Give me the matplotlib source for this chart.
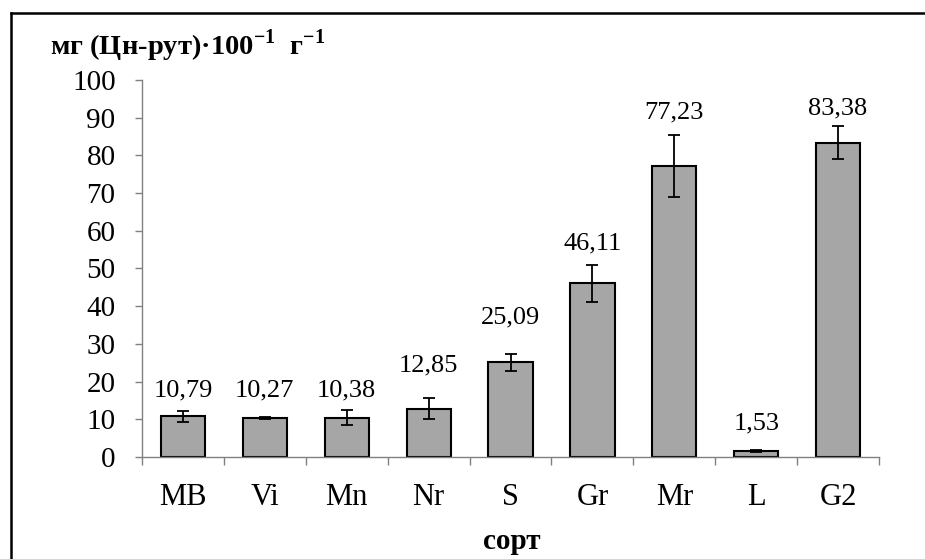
import matplotlib
matplotlib.use("Agg")
import matplotlib.pyplot as plt
from matplotlib.lines import Line2D

# =====================================================
# DATA
# =====================================================

varieties = ["MB", "Vi", "Mn", "Nr", "S", "Gr", "Mr", "L", "G2"]
values = [10.79, 10.27, 10.38, 12.85, 25.09, 46.11, 77.23, 1.53, 83.38]
errors = [1.45, 0.25, 2.0, 2.8, 2.2, 4.9, 8.2, 0.3, 4.4]
value_labels = ["10,79", "10,27", "10,38", "12,85", "25,09", "46,11", "77,23", "1,53", "83,38"]

# label heights (manually placed in the original)
label_y = [17.7, 17.7, 17.7, 24.3, 37.1, 56.6, 91.3, 9.0, 92.4]

# =====================================================
# STYLE
# =====================================================

plt.rcParams["font.family"] = ["Liberation Serif", "DejaVu Serif"]
plt.rcParams["mathtext.fontset"] = "custom"
plt.rcParams["mathtext.rm"] = "Liberation Serif"
plt.rcParams["mathtext.bf"] = "Liberation Serif:bold"

fig = plt.figure(figsize=(9.25, 5.59), dpi=100)
ax = fig.add_axes([0.1535, 0.1825, 0.7968, 0.6745])

# =====================================================
# BARS
# =====================================================

x = list(range(len(varieties)))
ax.bar(x, values, width=0.54, color="#a6a6a6", edgecolor="black", linewidth=1.5,
       yerr=errors, error_kw=dict(ecolor="black", elinewidth=1.3, capsize=4.5, capthick=1.3),
       zorder=2)

for xi, lbl, ly in zip(x, value_labels, label_y):
    ax.text(xi, ly, lbl, ha="center", va="center", fontsize=19)

# =====================================================
# AXES
# =====================================================

ax.set_xlim(-0.5, len(varieties) - 0.5)
ax.set_ylim(0, 100)
ax.set_yticks(range(0, 101, 10))
ax.tick_params(axis="y", labelsize=21, length=5, width=1, color="#808080", pad=14)

ax.set_xticks(x)
ax.set_xticklabels(varieties)
ax.set_xticks([i - 0.5 for i in range(len(varieties) + 1)], minor=True)
ax.tick_params(axis="x", which="major", length=0, labelsize=22, pad=19)
ax.tick_params(axis="x", which="minor", length=6, width=1, color="#808080")

for side in ["top", "right"]:
    ax.spines[side].set_visible(False)
for side in ["left", "bottom"]:
    ax.spines[side].set_color("#808080")
    ax.spines[side].set_linewidth(1)

fig.text(512 / 925, 1 - 549 / 559, "сорт", fontsize=21, fontweight="bold",
         ha="center", va="baseline")

fig.text(0.054, 0.918, r"мг (Цн-рут)·100$^{\mathbf{-1}}$  г$^{\mathbf{-1}}$",
         fontsize=20.5, fontweight="bold", ha="left", va="center")

# outer frame (top and left edges only are visible)
fig.add_artist(Line2D([11 / 925, 1.0], [1 - 13 / 559, 1 - 13 / 559],
                      transform=fig.transFigure, color="black", linewidth=1.8))
fig.add_artist(Line2D([11 / 925, 11 / 925], [1 - 13 / 559, 0.0],
                      transform=fig.transFigure, color="black", linewidth=1.8))

fig.savefig("out.png", dpi=100)
